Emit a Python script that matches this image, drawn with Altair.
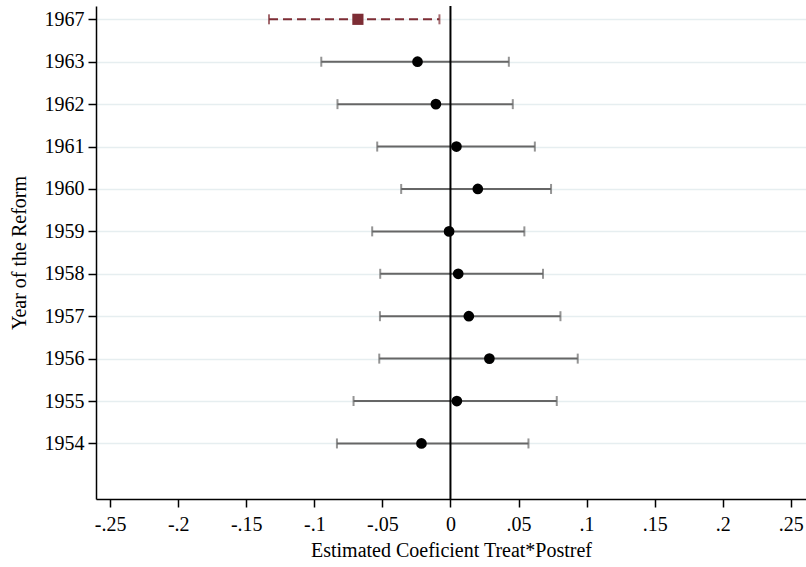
import altair as alt
import pandas as pd

years = ["1967", "1963", "1962", "1961", "1960", "1959", "1958", "1957", "1956", "1955", "1954"]
coef = [-0.068, -0.0242, -0.0107, 0.0044, 0.0201, -0.0010, 0.0057, 0.0135, 0.0286, 0.0047, -0.0213]
lower = [-0.1333, -0.0949, -0.0830, -0.0538, -0.0362, -0.0575, -0.0516, -0.0518, -0.0523, -0.0712, -0.0834]
upper = [-0.0081, 0.0429, 0.0458, 0.0620, 0.0739, 0.0543, 0.0680, 0.0808, 0.0935, 0.0781, 0.0573]
x_ticks = [-0.25, -0.2, -0.15, -0.1, -0.05, 0, 0.05, 0.1, 0.15, 0.2, 0.25]
x_tick_labels = ["-.25", "-.2", "-.15", "-.1", "-.05", "0", ".05", ".1", ".15", ".2", ".25"]

df = pd.DataFrame({
    "year": years,
    "pos": list(range(len(years))),
    "coef": coef,
    "lo": lower,
    "hi": upper,
})
df_red = df[df["year"] == "1967"]
df_gray = df[df["year"] != "1967"]

FONT = "Liberation Serif"
RED = "#7d2d35"
GRAY = "#666666"

y_label_expr = "[" + ",".join(f"'{y}'" for y in years) + "][datum.value]"

cond = "''"
for v, l in reversed(list(zip(x_ticks, x_tick_labels))):
    cond = f"(abs(datum.value - ({v})) < 1e-9 ? '{l}' : {cond})"

x_scale = alt.Scale(domain=[-0.2604, 0.2612], nice=False, zero=False)
y_scale = alt.Scale(domain=[-0.314, 11.31], nice=False, zero=False, reverse=True)

x_enc = alt.X(
    "lo:Q",
    scale=x_scale,
    axis=alt.Axis(
        values=x_ticks,
        labelExpr=cond,
        title="Estimated Coeficient Treat*Postref",
        grid=False,
        domainColor="black",
        domainWidth=1.5,
        tickColor="black",
        tickWidth=1.5,
        tickSize=8,
        labelPadding=7,
        titlePadding=6,
        labelFont=FONT,
        labelFontSize=20,
        labelColor="black",
        titleFont=FONT,
        titleFontSize=20,
        titleFontWeight="normal",
        titleColor="black",
        labelFlush=False,
        labelOverlap=False,
    ),
)
y_enc = alt.Y(
    "pos:Q",
    scale=y_scale,
    axis=alt.Axis(
        values=list(range(len(years))),
        labelExpr=y_label_expr,
        title="Year of the Reform",
        grid=True,
        gridColor="#e6eef0",
        gridWidth=1.5,
        domainColor="black",
        domainWidth=1.5,
        tickColor="black",
        tickWidth=1.5,
        tickSize=8,
        labelPadding=4,
        titlePadding=15,
        labelFont=FONT,
        labelFontSize=20,
        labelColor="black",
        titleFont=FONT,
        titleFontSize=20,
        titleFontWeight="normal",
        titleColor="black",
        labelFlush=False,
        labelOverlap=False,
    ),
)

zero = alt.Chart(pd.DataFrame({"z": [0]})).mark_rule(color="black", strokeWidth=2).encode(
    x=alt.X("z:Q", scale=x_scale)
)

ci_gray = alt.Chart(df_gray).mark_rule(color=GRAY, strokeWidth=2).encode(
    x=x_enc, x2="hi:Q", y=y_enc
)
ci_red = alt.Chart(df_red).mark_rule(color=RED, strokeWidth=2, strokeDash=[9, 5]).encode(
    x=alt.X("lo:Q", scale=x_scale), x2="hi:Q", y=alt.Y("pos:Q", scale=y_scale)
)

def caps(data, field, color):
    return alt.Chart(data).mark_tick(color=color, orient="vertical", size=10, thickness=2).encode(
        x=alt.X(f"{field}:Q", scale=x_scale), y=alt.Y("pos:Q", scale=y_scale)
    )

pts_gray = alt.Chart(df_gray).mark_point(shape="circle", filled=True, color="black", size=115, opacity=1).encode(
    x=alt.X("coef:Q", scale=x_scale), y=alt.Y("pos:Q", scale=y_scale)
)
pts_red = alt.Chart(df_red).mark_point(shape="square", filled=True, color=RED, size=125, opacity=1).encode(
    x=alt.X("coef:Q", scale=x_scale), y=alt.Y("pos:Q", scale=y_scale)
)

chart = alt.layer(
    ci_gray, zero, ci_red,
    caps(df_gray, "lo", GRAY), caps(df_gray, "hi", GRAY),
    caps(df_red, "lo", RED), caps(df_red, "hi", RED),
    pts_gray, pts_red
).properties(
    width=710,
    height=493,
    autosize=alt.AutoSizeParams(type="none"),
    padding={"left": 96, "top": 6, "right": 0, "bottom": 68},
    background="white",
).configure_view(stroke=None)

chart.save("out.html", embed_options={"renderer": "svg", "actions": False})
